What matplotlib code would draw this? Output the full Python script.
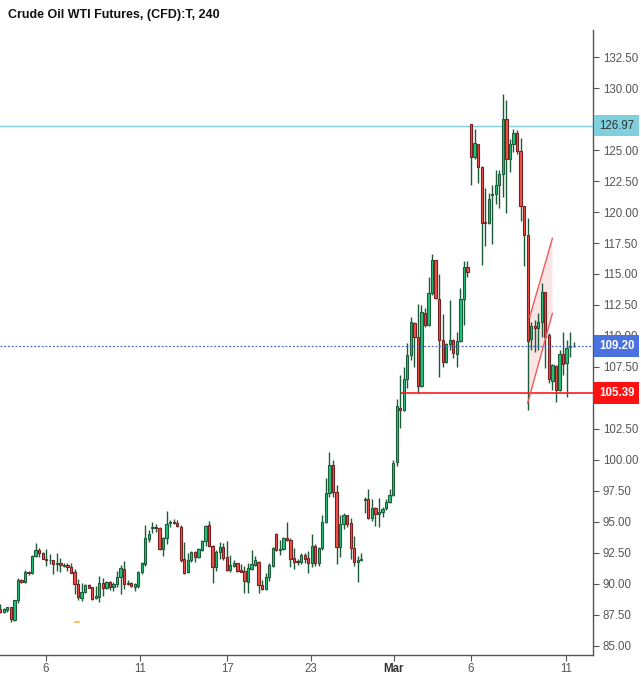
import matplotlib
matplotlib.use('Agg')
import matplotlib.pyplot as plt
import matplotlib.transforms as mtransforms
import numpy as np

plt.rcParams['font.family'] = ['Liberation Sans', 'DejaVu Sans']

# 4h candles (Feb -> Mar 11)
opens = [87.98, 87.72, 87.93, 88.12, 87.10, 88.71, 90.30, 90.19, 90.99, 90.86,
         92.23, 92.72, 92.50, 91.99, 91.91, 91.91, 91.59, 91.67, 91.45, 91.51,
         91.34, 90.94, 89.97, 88.90, 89.33, 89.92, 89.73, 88.84, 88.98, 90.05,
         89.65, 90.13, 89.73, 89.97, 90.54, 91.21, 90.08, 90.05, 89.78, 89.87,
         90.94, 91.64, 93.60, 94.55, 94.60, 94.52, 92.80, 93.68, 94.92, 94.95,
         94.89, 94.57, 91.99, 90.94, 91.94, 92.55, 92.15, 92.74, 93.44, 94.73,
         93.06, 91.34, 92.55, 92.96, 92.18, 91.10, 91.48, 91.67, 91.10, 91.02,
         90.19, 91.24, 91.56, 91.77, 89.92, 89.57, 90.54, 91.48, 94.01, 92.74,
         92.80, 93.71, 93.55, 92.07, 91.85, 91.75, 92.34, 92.10, 91.67, 93.04,
         91.67, 92.88, 94.97, 97.31, 99.60, 97.39, 92.96, 94.81, 95.54, 94.89,
         92.88, 91.75, 91.91, 96.80, 96.83, 95.35, 96.10, 95.62, 95.78, 96.10,
         96.59, 97.15, 99.81, 104.17, 104.03, 106.51, 108.44, 111.02, 109.89, 105.99,
         111.83, 110.89, 113.44, 116.10, 112.96, 109.68, 107.88, 109.33, 109.68, 108.52,
         109.62, 112.96, 115.59, 127.07, 124.41, 125.46, 123.66, 119.19, 119.09, 121.34,
         121.42, 122.15, 123.04, 127.47, 124.25, 125.46, 126.34, 124.92, 120.48, 118.15,
         109.78, 110.81, 110.62, 111.10, 113.52, 110.05, 106.40, 107.58, 105.65, 108.55,
         107.80, 109.09, 109.17]
highs = [88.39, 88.04, 88.15, 88.17, 88.71, 90.48, 90.38, 91.13, 91.08, 92.34,
         93.31, 92.88, 92.58, 92.82, 92.39, 91.94, 92.50, 92.10, 91.67, 91.72,
         91.72, 91.18, 90.40, 90.08, 90.00, 90.00, 89.78, 89.87, 90.65, 90.46,
         90.22, 90.22, 90.19, 91.05, 91.53, 91.85, 90.32, 90.13, 90.05, 91.08,
         91.77, 94.76, 94.35, 95.00, 94.81, 94.62, 93.82, 95.91, 95.16, 95.24,
         95.16, 94.76, 93.39, 92.47, 92.66, 92.66, 92.88, 93.55, 94.73, 95.08,
         93.15, 92.74, 93.36, 93.28, 93.47, 92.34, 91.94, 91.72, 91.59, 91.45,
         91.67, 92.74, 92.26, 91.85, 90.32, 90.86, 91.67, 93.01, 94.09, 93.55,
         93.82, 95.00, 93.68, 92.88, 91.99, 92.53, 92.47, 92.66, 94.01, 93.20,
         93.01, 95.56, 98.52, 100.62, 100.00, 97.98, 95.56, 95.70, 95.56, 95.35,
         93.87, 92.29, 92.53, 97.04, 97.66, 96.83, 96.18, 96.91, 96.24, 96.83,
         97.63, 100.00, 104.89, 106.85, 107.53, 109.41, 111.56, 111.16, 112.58, 112.50,
         112.23, 114.78, 116.61, 116.13, 115.00, 111.77, 109.46, 112.90, 109.73, 110.35,
         113.84, 116.05, 116.05, 127.07, 126.69, 125.46, 123.71, 121.91, 121.51, 122.18,
         123.39, 123.39, 129.52, 129.03, 125.89, 126.69, 126.61, 125.94, 120.48, 119.52,
         111.13, 111.29, 111.83, 114.30, 113.55, 110.22, 107.74, 107.66, 108.87, 110.32,
         109.68, 110.32, 109.54]
lows = [87.69, 87.69, 87.77, 86.91, 87.04, 88.44, 90.11, 90.11, 90.73, 90.78,
        92.18, 92.20, 91.99, 91.48, 91.59, 90.81, 91.08, 91.00, 91.40, 91.08,
        90.86, 89.19, 88.71, 88.66, 89.27, 89.65, 88.74, 88.79, 88.58, 89.06,
        89.57, 89.52, 89.46, 89.78, 89.22, 89.62, 89.92, 89.78, 89.41, 89.70,
        90.81, 91.45, 93.41, 94.09, 94.22, 92.72, 92.28, 93.20, 94.62, 94.84,
        94.57, 91.80, 90.81, 90.86, 91.75, 91.80, 92.10, 92.66, 93.06, 92.98,
        90.11, 91.08, 91.99, 91.94, 91.05, 91.00, 91.40, 91.00, 90.94, 89.25,
        89.30, 91.13, 91.48, 89.25, 89.52, 89.52, 90.27, 91.40, 92.66, 92.34,
        92.74, 93.49, 91.40, 91.18, 91.51, 91.61, 91.67, 90.86, 91.40, 91.48,
        91.48, 92.74, 94.89, 97.04, 96.99, 91.61, 92.20, 94.41, 94.62, 92.02,
        91.48, 90.19, 91.88, 95.70, 95.27, 95.11, 94.68, 94.62, 95.43, 95.97,
        96.51, 97.10, 99.54, 102.61, 103.98, 105.78, 108.06, 107.53, 105.38, 105.86,
        110.75, 110.83, 113.31, 112.96, 106.67, 107.53, 107.85, 108.87, 108.25, 107.47,
        109.54, 110.86, 114.78, 122.18, 124.27, 122.31, 115.75, 117.28, 119.03, 117.39,
        120.62, 120.30, 121.18, 119.89, 123.20, 124.87, 124.65, 119.30, 115.67, 104.01,
        108.87, 108.68, 108.87, 109.89, 107.39, 106.18, 105.65, 104.65, 105.59, 106.85,
        105.05, 108.33, 109.15]
closes = [87.72, 87.98, 88.15, 87.15, 88.68, 90.30, 90.19, 90.94, 90.86, 92.26,
          92.72, 92.47, 92.04, 91.91, 91.96, 91.59, 91.67, 91.51, 91.56, 91.34,
          90.91, 89.97, 88.92, 89.33, 89.92, 89.70, 88.82, 89.01, 90.05, 89.65,
          90.13, 89.73, 89.97, 90.56, 91.29, 90.03, 90.00, 89.84, 89.97, 90.97,
          91.67, 93.71, 94.01, 94.60, 94.55, 92.80, 93.71, 94.81, 94.95, 94.92,
          94.65, 91.94, 90.86, 91.91, 92.55, 92.15, 92.80, 93.47, 94.68, 93.06,
          91.34, 92.55, 92.96, 92.10, 91.10, 91.51, 91.67, 91.08, 90.99, 90.22,
          91.26, 91.61, 91.91, 89.89, 89.57, 90.54, 91.51, 92.90, 92.74, 92.82,
          93.71, 93.55, 92.04, 91.75, 91.75, 92.34, 92.04, 91.67, 93.04, 91.67,
          92.88, 94.97, 97.31, 99.60, 97.39, 92.96, 94.81, 95.54, 94.81, 92.88,
          91.75, 91.94, 91.99, 96.85, 95.35, 96.10, 95.62, 95.78, 96.02, 96.59,
          97.15, 99.73, 104.33, 104.01, 106.51, 108.44, 111.10, 109.89, 105.97, 111.91,
          110.89, 113.44, 116.10, 113.04, 109.68, 107.88, 109.33, 109.68, 108.60, 109.62,
          112.96, 115.59, 115.13, 124.41, 125.54, 123.66, 119.14, 119.09, 121.02, 121.42,
          122.15, 123.04, 127.47, 124.25, 125.46, 126.34, 124.92, 120.48, 118.15, 109.62,
          110.81, 110.62, 111.10, 113.52, 109.95, 106.51, 107.66, 105.65, 108.55, 107.72,
          109.03, 109.22, 109.20]

date_tick_bars = [12.9, 39.5, 64.1, 87.8, 111.2, 133.0, 159.8]
date_tick_labels = ['6', '11', '17', '23', 'Mar', '6', '11']
price_ticks = np.arange(85, 133, 2.5)

resistance = 126.97
support = 105.39
support_from_bar = 113.2
last_price = 109.20

# drawn channel (bar index, price)
chan_x = [149.0, 156.0, 156.0, 149.6]
chan_y = [104.57, 111.83, 117.88, 111.56]

event_bar, event_price = 21.7, 86.91

up_face, up_edge = '#22c57b', '#1d5e3a'
dn_face, dn_edge = '#f0524a', '#7a2020'
wick_col = '#1d5a38'

fig = plt.figure(figsize=(6.41, 6.75), dpi=100)
ax = fig.add_axes([0, 20 / 675, 593 / 641, 625 / 675])

o = np.array(opens)
h = np.array(highs)
l = np.array(lows)
c = np.array(closes)
idx = np.arange(len(o))
up = c >= o

ax.vlines(idx, l, h, color=wick_col, linewidth=1.0, zorder=3)
bottoms = np.minimum(o, c)
heights = np.maximum(np.abs(c - o), 0.05)
ax.bar(idx[up], heights[up], bottom=bottoms[up], width=0.64,
       color=up_face, edgecolor=up_edge, linewidth=0.8, zorder=4)
ax.bar(idx[~up], heights[~up], bottom=bottoms[~up], width=0.64,
       color=dn_face, edgecolor=dn_edge, linewidth=0.8, zorder=4)

# horizontal levels
ax.axhline(resistance, color='#7fd0df', linewidth=1.0, zorder=2)
ax.axhline(last_price, color='#4a68c8', linewidth=0.9, linestyle=(0, (1.5, 1.5)), zorder=5)
ax.hlines(support, support_from_bar, 170, color='#ff1a1a', linewidth=1.2, zorder=5)

# channel
ax.fill(chan_x, chan_y, color='#f6d4d4', alpha=0.6, linewidth=0, zorder=2)
ax.plot(chan_x[:2], chan_y[:2], color='#f25a5a', linewidth=1.0, zorder=6)
ax.plot(chan_x[3:1:-1], chan_y[3:1:-1], color='#f25a5a', linewidth=1.0, zorder=6)

ax.plot([event_bar - 0.5, event_bar + 0.5], [event_price, event_price],
        color='#f7b445', linewidth=1.2, zorder=3)

ax.set_xlim(-0.06, 167.46)
ax.set_ylim(84.27, 134.68)

for s in ['left', 'top']:
    ax.spines[s].set_visible(False)
for s in ['right', 'bottom']:
    ax.spines[s].set_color('#555555')
    ax.spines[s].set_linewidth(1.0)

ax.yaxis.tick_right()
ax.set_yticks(price_ticks)
ax.set_yticklabels(['%.2f' % v for v in price_ticks])
ax.tick_params(axis='y', length=4, width=0.8, color='#555555', pad=3,
               labelsize=8.3, labelcolor='#555555')
ax.set_xticks(date_tick_bars)
ax.set_xticklabels(date_tick_labels)
ax.tick_params(axis='x', length=4, width=0.8, color='#555555', pad=2,
               labelsize=8.3, labelcolor='#555555')
for t in ax.get_xticklabels():
    if t.get_text() == 'Mar':
        t.set_fontweight('bold')
        t.set_color('#333333')

# price tags on the axis
trans = mtransforms.blended_transform_factory(ax.transAxes, ax.transData)
tags = [(resistance, '#80cfdd', '#333333'),
        (last_price, '#4a72de', 'white'),
        (support, '#ff1111', 'white')]
for val, bg, fg in tags:
    ax.text(1.0098, val, '%.2f' % val, transform=trans, ha='left', va='center',
            fontsize=8.3, color=fg, fontweight='bold' if fg == 'white' else 'normal',
            bbox=dict(boxstyle='square,pad=0.42', facecolor=bg, edgecolor='none'),
            clip_on=False, zorder=10)

fig.text(8 / 641, 1 - 15 / 675, 'Crude Oil WTI Futures, (CFD):T, 240',
         fontsize=9, fontweight='bold', color='#111111', va='center', ha='left')

fig.savefig('out.png', dpi=100)
